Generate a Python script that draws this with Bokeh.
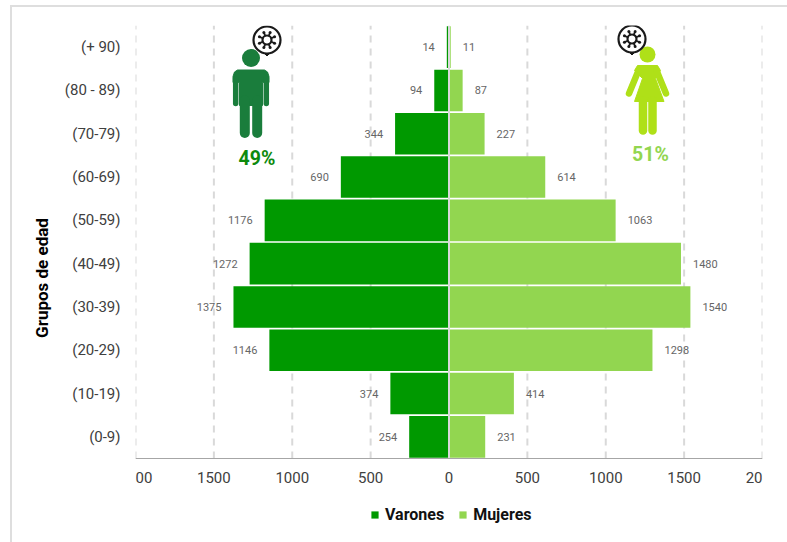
import math
from bokeh.plotting import figure
from bokeh.embed import file_html
from bokeh.resources import INLINE
from bokeh.core.properties import value
from bokeh.models import (ColumnDataSource, Range1d, FixedTicker, Legend, LegendItem)

groups = ["(0-9)", "(10-19)", "(20-29)", "(30-39)", "(40-49)", "(50-59)", "(60-69)", "(70-79)", "(80 - 89)", "(+ 90)"]
varones = [254, 374, 1146, 1375, 1272, 1176, 690, 344, 94, 14]
mujeres = [231, 414, 1298, 1540, 1480, 1063, 614, 227, 87, 11]
ticks = [-2000, -1500, -1000, -500, 0, 500, 1000, 1500, 2000]
tick_labels = {t: str(abs(t)) for t in ticks}
share_v = "49%"
share_m = "51%"

FONT = "Roboto"
GREEN = "#009900"
LIGHT = "#92d650"

rows = [i + 0.5 for i in range(len(groups))]
n_rows = len(groups)
# the frame reaches down past the axis, so that the legend can sit inside it
y_start = -(505 - 433) * n_rows / 433

p = figure(width=775, height=535, frame_width=627, frame_height=505, output_backend="svg", toolbar_location=None,
           x_range=Range1d(-2000, 2000), y_range=Range1d(y_start, n_rows),
           min_border_left=123, min_border_right=25, min_border_top=18, min_border_bottom=12,
           margin=(5, 0, 0, 10), outline_line_color=None, background_fill_color="white",
           styles={"border-top": "2px solid #dedede", "border-left": "2px solid #dedede"})

# page-pixel helper ranges for the pictograms
p.extra_x_ranges["px"] = Range1d(135, 762)
p.extra_y_ranges["py"] = Range1d(530, 25)

# axes
xa = p.xaxis[0]
xa.fixed_location = 0
xa.ticker = FixedTicker(ticks=ticks)
xa.major_label_overrides = tick_labels
xa.major_tick_out = 0
xa.major_tick_in = 0
xa.minor_tick_line_color = None
xa.axis_line_color = "#a6a6a6"
xa.axis_line_width = 1
xa.major_label_standoff = 13
xa.major_label_text_font = FONT
xa.major_label_text_font_size = "15px"
xa.major_label_text_color = "#404040"

ya = p.yaxis[0]
ya.bounds = (0, n_rows)
ya.ticker = FixedTicker(ticks=rows)
ya.major_label_overrides = dict(zip(rows, groups))
ya.axis_line_color = None
ya.major_tick_line_color = None
ya.minor_tick_line_color = None
ya.major_label_standoff = 9
ya.major_label_text_font = FONT
ya.major_label_text_font_size = "15px"
ya.major_label_text_color = "#404040"
ya.axis_label = "Grupos de edad"
ya.axis_label_text_font = FONT
ya.axis_label_text_font_style = "bold"
ya.axis_label_text_font_size = "17px"
ya.axis_label_text_color = "#000000"
ya.axis_label_standoff = 10

p.ygrid.visible = False
p.xgrid.visible = False

# dashed guides, stopping at the axis
guides = [t for t in ticks if t != 0]
p.segment(x0=guides, y0=[0] * len(guides), x1=guides, y1=[n_rows] * len(guides),
          line_color="#d9d9d9", line_width=2, line_dash="7 6")

# bars
src = ColumnDataSource(dict(row=rows, v=[-x for x in varones], m=mujeres,
                            vt=[str(x) for x in varones], mt=[str(x) for x in mujeres]))
rv = p.hbar(y="row", left=0, right="v", height=0.96, source=src, fill_color=GREEN, line_color=None)
rm = p.hbar(y="row", left=0, right="m", height=0.96, source=src, fill_color=LIGHT, line_color=None)
p.segment(x0=[0], y0=[0], x1=[0], y1=[n_rows], line_color="#d9d9d9", line_width=2)

# value labels
p.text(x="v", y="row", text="vt", source=src, x_offset=-12, text_align="right", text_baseline="middle",
       text_font=value(FONT), text_font_size="11px", text_color="#666666")
p.text(x="m", y="row", text="mt", source=src, x_offset=12, text_align="left", text_baseline="middle",
       text_font=value(FONT), text_font_size="11px", text_color="#666666")

def shape(xs, ys, color):
    p.patch(xs, ys, fill_color=color, line_color=color, line_width=1, x_range_name="px", y_range_name="py")

def stroke(xs, ys, color, w):
    p.line(xs, ys, line_color=color, line_width=w, line_cap="round", x_range_name="px", y_range_name="py")

def dot(x, y, r, color):
    p.scatter([x], [y], size=2 * r, fill_color=color, line_color=None, x_range_name="px", y_range_name="py")

# man
MAN = "#1a7d3c"
dot(250.5, 57.5, 9, MAN)
shape([232.5, 234, 237, 264, 267, 268.5, 268.5, 263, 262, 262, 239, 239, 238, 232.5],
      [76, 71.5, 69.5, 69.5, 71.5, 76, 82, 82, 82, 105, 105, 82, 82, 82], MAN)
stroke([235.2, 235.2], [78, 103], MAN, 5.5)
stroke([265.8, 265.8], [78, 103], MAN, 5.5)
stroke([244.3, 244.3], [100, 132.5], MAN, 10)
stroke([256.7, 256.7], [100, 132.5], MAN, 10)

# woman
WOMAN = "#afe018"
dot(647, 54, 8, WOMAN)
shape([637, 657, 660, 655, 663.5, 634, 642, 634],
      [65, 65, 70, 78, 101, 101, 78, 70], WOMAN)
stroke([638, 628.5], [70, 93], WOMAN, 6.5)
stroke([656, 665.5], [70, 93], WOMAN, 6.5)
stroke([642.5, 642.5], [100, 130], WOMAN, 8.5)
stroke([652, 652], [100, 130], WOMAN, 8.5)

# virus bubbles
def bubble(cx, cy):
    INK = "#1a1a1a"
    shape([cx - 5, cx, cx + 5], [cy + 11, cy + 16, cy + 11], INK)
    p.scatter([cx], [cy], size=27, fill_color="white", line_color=INK, line_width=2.2,
              x_range_name="px", y_range_name="py")
    p.scatter([cx], [cy], size=9, fill_color="white", line_color=INK, line_width=2.2,
              x_range_name="px", y_range_name="py")
    for k in range(8):
        a = k * math.pi / 4 + math.pi / 8
        p.line([cx + 4 * math.cos(a), cx + 8 * math.cos(a)], [cy + 4 * math.sin(a), cy + 8 * math.sin(a)],
               line_color=INK, line_width=1.8, x_range_name="px", y_range_name="py")
        dot(cx + 8.2 * math.cos(a), cy + 8.2 * math.sin(a), 1.5, INK)

bubble(266.5, 39.5)
bubble(631.5, 38.5)

# percentages
p.text([256.5], [158], text=[share_v], text_align="center", text_baseline="middle", text_font=value(FONT),
       text_font_style="bold", text_font_size="19.5px", text_color="#0d8a0d", x_range_name="px", y_range_name="py")
p.text([650], [154], text=[share_m], text_align="center", text_baseline="middle", text_font=value(FONT),
       text_font_style="bold", text_font_size="19.5px", text_color="#92d650", x_range_name="px", y_range_name="py")

# legend
legend = Legend(items=[LegendItem(label="Varones", renderers=[rv]), LegendItem(label="Mujeres", renderers=[rm])],
                orientation="horizontal", location=(235, 6), glyph_width=9, glyph_height=9, label_standoff=6,
                spacing=14, padding=0, margin=0, border_line_color=None, background_fill_alpha=0,
                label_text_font=FONT, label_text_font_style="bold", label_text_font_size="16px",
                label_text_color="#111111")
p.add_layout(legend, "center")

open("out.html", "w").write(file_html(p, INLINE))
